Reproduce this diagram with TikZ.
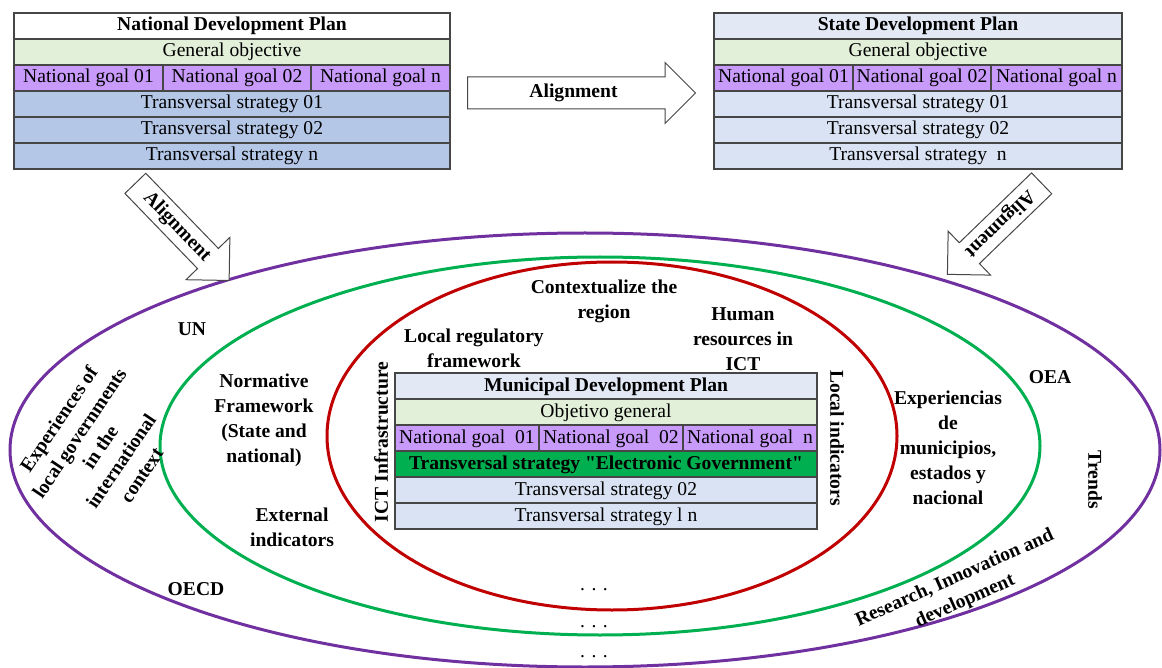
\documentclass[tikz,border=0pt]{standalone}
\usepackage{fontspec}
\setmainfont{LiberationSerif}[Extension=.ttf,UprightFont=*-Regular,BoldFont=*-Bold,ItalicFont=*-Italic,BoldItalicFont=*-BoldItalic]
\newfontfamily\planfont{LiberationSerif}[Extension=.ttf,UprightFont=*-Regular,BoldFont=*-Bold]
\usetikzlibrary{shapes,shapes.arrows,positioning}
\definecolor{tabline}{RGB}{70,70,70}
\definecolor{headblue}{RGB}{226,232,244}
\definecolor{objgreen}{RGB}{226,239,217}
\definecolor{goalpurple}{RGB}{200,155,250}
\definecolor{stratblue}{RGB}{180,199,231}
\definecolor{lightblue}{RGB}{218,227,243}
\definecolor{egovgreen}{RGB}{0,176,80}
\definecolor{ringpurple}{RGB}{112,48,160}
\definecolor{ringgreen}{RGB}{0,176,80}
\definecolor{ringred}{RGB}{192,0,0}
\begin{document}
\begin{tikzpicture}[x=1pt,y=-1pt,
    plancell/.style={draw=tabline,line width=1.1pt,inner sep=0pt,outer sep=0pt,minimum height=26pt,
      text height=14pt,text depth=4pt,font=\planfont\fontsize{19.6}{22}\selectfont},
    planhead/.style={plancell,font=\planfont\fontsize{19.6}{22}\selectfont\bfseries},
    ringtext/.style={font=\planfont\fontsize{19.6}{25}\selectfont\bfseries,align=center,inner sep=0pt},
    ring/.style={line width=3pt},
    alignarrow/.style={single arrow,draw=tabline,fill=white,line width=1pt,
      font=\planfont\fontsize{19.6}{22}\selectfont\bfseries,text height=14pt,text depth=4pt,
      inner ysep=5pt,inner xsep=2pt,single arrow head extend=16pt,minimum width=60pt}]
    \useasboundingbox (0,0) rectangle (1162,668);
    % rings
    \draw[ring,draw=ringpurple] (585,450) ellipse [x radius=575pt, y radius=217pt];
    \draw[ring,draw=ringgreen] (600,446) ellipse [x radius=440pt, y radius=189pt];
    \draw[ring,draw=ringred] (612,436) ellipse [x radius=285pt, y radius=174pt];
    % national plan
    \node[planhead,fill=white,minimum width=436pt,anchor=north west] (np) at (14,13) {National Development Plan};
    \node[plancell,fill=objgreen,minimum width=436pt,below=0pt of np] (npobj) {General objective};
    \node[plancell,fill=goalpurple,minimum width=149pt,anchor=north west] (npg1) at (npobj.south west) {National goal 01};
    \node[plancell,fill=goalpurple,minimum width=148pt,right=0pt of npg1] (npg2) {National goal 02};
    \node[plancell,fill=goalpurple,minimum width=139pt,right=0pt of npg2] (npg3) {National goal n};
    \node[plancell,fill=stratblue,minimum width=436pt,anchor=north west] (nps1) at (npg1.south west) {Transversal strategy 01};
    \node[plancell,fill=stratblue,minimum width=436pt,below=0pt of nps1] (nps2) {Transversal strategy 02};
    \node[plancell,fill=stratblue,minimum width=436pt,below=0pt of nps2] (nps3) {Transversal strategy n};
    % state plan
    \node[planhead,fill=headblue,minimum width=408pt,anchor=north west] (sp) at (714,13) {State Development Plan};
    \node[plancell,fill=objgreen,minimum width=408pt,below=0pt of sp] (spobj) {General objective};
    \node[plancell,fill=goalpurple,minimum width=139pt,anchor=north west] (spg1) at (spobj.south west) {National goal 01};
    \node[plancell,fill=goalpurple,minimum width=138pt,right=0pt of spg1] (spg2) {National goal 02};
    \node[plancell,fill=goalpurple,minimum width=131pt,right=0pt of spg2] (spg3) {National goal n};
    \node[plancell,fill=lightblue,minimum width=408pt,anchor=north west] (sps1) at (spg1.south west) {Transversal strategy 01};
    \node[plancell,fill=lightblue,minimum width=408pt,below=0pt of sps1] (sps2) {Transversal strategy 02};
    \node[plancell,fill=lightblue,minimum width=408pt,below=0pt of sps2] (sps3) {Transversal strategy\ \ n};
    % municipal plan
    \node[planhead,fill=headblue,minimum width=422pt,anchor=north west] (mp) at (395,373) {Municipal Development Plan};
    \node[plancell,fill=objgreen,minimum width=422pt,below=0pt of mp] (mpobj) {Objetivo general};
    \node[plancell,fill=goalpurple,minimum width=144pt,anchor=north west] (mpg1) at (mpobj.south west) {National goal\ \ 01};
    \node[plancell,fill=goalpurple,minimum width=144pt,right=0pt of mpg1] (mpg2) {National goal\ \ 02};
    \node[plancell,fill=goalpurple,minimum width=134pt,right=0pt of mpg2] (mpg3) {National goal\ \ n};
    \node[planhead,fill=egovgreen,minimum width=422pt,anchor=north west] (mps1) at (mpg1.south west) {Transversal strategy "Electronic Government"};
    \node[plancell,fill=lightblue,minimum width=422pt,below=0pt of mps1] (mps2) {Transversal strategy 02};
    \node[plancell,fill=lightblue,minimum width=422pt,below=0pt of mps2] (mps3) {Transversal strategy l n};
    % alignment arrows
    \node[alignarrow,minimum height=228pt,inner ysep=6.5pt,single arrow head extend=14.5pt,anchor=tail] (amid) at (467,93) {Alignment};
    \node[alignarrow,minimum height=135pt,rotate=-46,anchor=tail] (aleft) at (135,183) {Alignment};
    \node[alignarrow,minimum height=131pt,rotate=224,anchor=tail] (aright) at (1042,183) {Alignment};
    % outer ring
    \node[ringtext] (un) at (192,329) {UN};
    \node[ringtext,rotate=56] (expint) at (100,447) {Experiences of\\local governments\\in the\\international\\context};
    \node[ringtext] (oecd) at (196,589) {OECD};
    \node[ringtext] (oea) at (1050,377) {OEA};
    \node[ringtext,rotate=-90] (trends) at (1095,480) {Trends};
    \node[ringtext,rotate=24] (research) at (960,590) {Research, Innovation and\\development};
    % middle ring
    \node[ringtext] (normfw) at (264,420) {Normative\\Framework\\(State and\\national)};
    \node[ringtext] (extind) at (292,527) {External\\indicators};
    \node[ringtext] (expmun) at (948,448) {Experiencias\\de\\municipios,\\estados y\\nacional};
    % inner ring
    \node[ringtext,rotate=90] (ictinf) at (381,442) {ICT Infrastructure};
    \node[ringtext] (locreg) at (474,348) {Local regulatory\\framework};
    \node[ringtext] (context) at (604,301) {Contextualize the\\region};
    \node[ringtext] (humres) at (743,339) {Human\\resources in\\ICT};
    \node[ringtext,rotate=-90] (locind) at (837,438) {Local indicators};
    \foreach \y [count=\i] in {590,627,657}
        \node[font=\planfont\fontsize{19.6}{22}\selectfont,inner sep=0pt] (dots\i) at (594,\y) {. . .};
\end{tikzpicture}
\end{document}
